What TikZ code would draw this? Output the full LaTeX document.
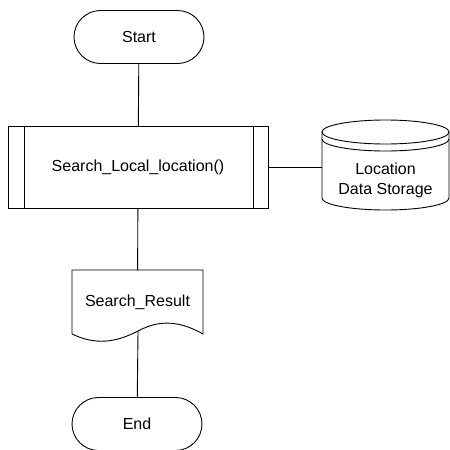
\documentclass[tikz,border=0pt]{standalone}
\usepackage{fontspec}
\setmainfont{Liberation Sans}
\usetikzlibrary{shapes.misc}

\begin{document}
\begin{tikzpicture}[x=1pt,y=-1pt,line width=0.9pt,
  every node/.style={font=\fontsize{16}{20}\selectfont, outer sep=0pt, inner sep=0pt},
  terminal/.style={draw, rounded rectangle, minimum width=130pt, minimum height=53pt},
  procbox/.style={draw, rectangle, minimum width=260pt, minimum height=82pt},
  docbox/.style={minimum width=131pt, minimum height=64pt}]
\useasboundingbox (0,0) rectangle (450,450);

\node[terminal] (start) at (139,37) {Start};
\node[procbox] (search) at (138,167) {Search\_Local\_location()};
\draw ([xshift=16pt]search.north west) -- ([xshift=16pt]search.south west);
\draw ([xshift=-15pt]search.north east) -- ([xshift=-15pt]search.south east);

\node[align=center, minimum width=127pt] (store) at (385.5,180) {Location\\Data Storage};
\draw (385.5,132) ellipse [x radius=63.5pt, y radius=12pt];
\draw (322,139) arc[start angle=180, end angle=360, x radius=63.5pt, y radius=12pt];
\draw (322,132) -- (322,198) arc[start angle=180, end angle=360, x radius=63.5pt, y radius=12pt] -- (449,132);

\node[docbox] (result) at (137.5,302) {Search\_Result};
\coordinate (wave) at (138,331);
\draw (result.south west) -- (72,270) -- (203,270) -- (203,334)
  .. controls (175,318) and (155,322) .. (wave)
  .. controls (115,343) and (95,345) .. (72,334);

\node[terminal] (end) at (137,424) {End};

\draw (start) -- (search);
\draw (search.east) -- (search.east -| store.west);
\draw (search) -- (result);
\draw (wave) -- (end);
\end{tikzpicture}
\end{document}
